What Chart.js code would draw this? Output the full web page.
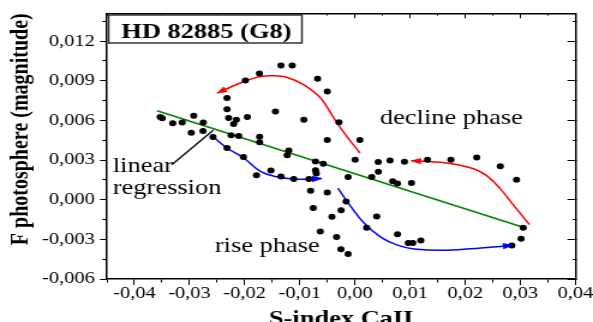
<!DOCTYPE html>
<html>
<head>
<meta charset="utf-8">
<script src="https://cdn.jsdelivr.net/npm/chart.js@4.4.1/dist/chart.umd.min.js"></script>
<style>
  html, body { margin: 0; padding: 0; background: #fff; overflow: hidden; }
  #chart { position: absolute; left: 0; top: 0; transform: scaleX(1.2004); transform-origin: 0 0; }
</style>
</head>
<body>
<canvas id="chart" width="494" height="322"></canvas>
<script>
// S-index CaII variation vs photospheric flux variation
const sIndex = [
  -0.03533, -0.03496, -0.03305, -0.03133, -0.02924, -0.02751, -0.02969, -0.02756, -0.02575,
  -0.0232, -0.0232, -0.02291, -0.02151, -0.022, -0.01951, -0.02247, -0.02109, -0.01729, -0.01729,
  -0.01987, -0.01733, -0.01342, -0.01138, -0.00678, -0.00502, -0.01442, -0.00927, -0.00291, -0.00502, 0.00089,
  -0.012, -0.01229, -0.0232, -0.02024, -0.01787, -0.01524, -0.01342, -0.01109, -0.00836, -0.00715, -0.00702,
  -0.00715, -0.00575, -0.00805, -0.00502, -0.00756, -0.00418, -0.00251, -0.0016, -0.00629, -0.00333, -0.00255, -0.00124,
  0.00004, -0.00124, 0.00304, 0.00422, 0.00425, 0.00636, 0.00898, 0.01316, 0.0174, 0.02209, 0.02636, 0.02931,
  0.00685, 0.00771, 0.01025, 0.00395, 0.00213, 0.00771, 0.00967, 0.01049, 0.01195, 0.03053, 0.03013, 0.02845
];
const fPhot = [
  0.00625, 0.00616, 0.00578, 0.00584, 0.00635, 0.00584, 0.00506, 0.0052, 0.00474,
  0.00769, 0.00685, 0.00618, 0.00605, 0.00572, 0.00626, 0.00487, 0.00482, 0.00476, 0.00435,
  0.00902, 0.00954, 0.01016, 0.01016, 0.00914, 0.00818, 0.00667, 0.00605, 0.00586, 0.00452, 0.00452,
  0.00373, 0.00336, 0.00391, 0.00323, 0.00185, 0.00221, 0.00176, 0.00156, 0.00156, 0.00223, 0.00198,
  0.00289, 0.00272, 0.00068, 0.00055, -0.00063, -0.0013, -0.00079, -0.00013, -0.0024, -0.00282, -0.00374, -0.0041,
  0.00302, 0.00172, 0.00172, 0.00286, 0.00212, 0.00296, 0.00287, 0.00302, 0.00302, 0.00319, 0.00252, 0.00151,
  0.0014, 0.00123, 0.00126, -0.00128, -0.00212, -0.00262, -0.00327, -0.00327, -0.00308, -0.00212, -0.00295, -0.00346
];

// linear regression end points
const regX = [-0.0359, 0.0305];
const regY = [0.00673, -0.00208];

// decline phase arrows (red)
const declineTopX = [0.00091, -0.00169, -0.00382, -0.00624, -0.00927, -0.01229, -0.01473, -0.01715, -0.01956, -0.02224, -0.02496];
const declineTopY = [0.00353, 0.00491, 0.00617, 0.00769, 0.00869, 0.00924, 0.00937, 0.00932, 0.00902, 0.00858, 0.00806];
const declineRightX = [0.03167, 0.02895, 0.02649, 0.02407, 0.02164, 0.01862, 0.01558, 0.01316, 0.01025];
const declineRightY = [-0.00189, -0.00051, 0.00076, 0.00176, 0.00232, 0.00264, 0.00283, 0.00289, 0.00295];

// rise phase arrows (blue)
const riseLeftX = [-0.02575, -0.0232, -0.02018, -0.01715, -0.01473, -0.01109, -0.00865, -0.00605];
const riseLeftY = [0.00476, 0.00391, 0.00315, 0.00214, 0.00178, 0.00156, 0.00155, 0.00161];
const riseRightX = [-0.00309, -0.00078, 0.00164, 0.00467, 0.00771, 0.01073, 0.0168, 0.02285, 0.02858];
const riseRightY = [0.00088, -0.00051, -0.00176, -0.00283, -0.00344, -0.00373, -0.00382, -0.00365, -0.00346];

// pointer from the "linear regression" label
const pointerX = [-0.03322, -0.02571];
const pointerY = [0.00264, 0.00525];

// axis ticks
const xTickValues = [-0.04, -0.03, -0.02, -0.01, 0, 0.01, 0.02, 0.03, 0.04];
const xTickLabels = ['-0,04', '-0,03', '-0,02', '-0,01', '0,00', '0,01', '0,02', '0,03', '0,04'];
const yTickValues = [-0.006, -0.003, 0, 0.003, 0.006, 0.009, 0.012];
const yTickLabels = ['-0,006', '-0,003', '0,000', '0,003', '0,006', '0,009', '0,012'];

const FONT = 'Liberation Serif';
const X_MIN = -0.045, X_MAX = 0.04, Y_MIN = -0.006, Y_MAX = 0.0141;

const toPoints = (xs, ys) => xs.map((x, i) => ({ x: x, y: ys[i] }));

// majors plus one minor tick half-way between them
function withMinor(majors, lo, hi) {
  const half = (majors[1] - majors[0]) / 2;
  const vals = [];
  majors.forEach(m => vals.push(m - half, m, m + half));
  return [...new Set(vals.map(v => +v.toFixed(5)))]
    .filter(v => v >= lo - 1e-9 && v <= hi + 1e-9)
    .sort((a, b) => a - b);
}
const isMajor = (v, majors) => majors.some(m => Math.abs(m - v) < 1e-7);
function labelFor(v, majors, labels) {
  const i = majors.findIndex(m => Math.abs(m - v) < 1e-7);
  return i < 0 ? '' : labels[i];
}
// short dash for minor ticks, full length for major
function tickDash(majors, minorDash) {
  return ctx => (ctx.tick && !isMajor(ctx.tick.value, majors)) ? minorDash : [];
}

function axis(position, majors, lo, hi, size, tickLength, minorDash, extra) {
  return Object.assign({
    type: 'linear',
    position: position,
    min: lo,
    max: hi,
    afterBuildTicks: s => { s.ticks = withMinor(majors, lo, hi).map(v => ({ value: v })); },
    afterFit: s => {
      if (s.isHorizontal()) s.height = size; else s.width = size;
      s.paddingLeft = s.paddingRight = s.paddingTop = s.paddingBottom = 0;
    },
    grid: {
      drawOnChartArea: false,
      tickColor: '#000',
      tickWidth: 1,
      tickLength: tickLength,
      tickBorderDash: tickDash(majors, minorDash)
    },
    border: { color: '#000', width: 1.5 },
    ticks: { display: false, autoSkip: false, maxRotation: 0 }
  }, extra || {});
}

const curve = (xs, ys, color) => ({
  data: toPoints(xs, ys),
  showLine: true,
  borderColor: color,
  backgroundColor: color,
  borderWidth: 1.5,
  pointRadius: 0,
  tension: 0.4,
  arrow: true,
  order: 2
});

// arrowheads at the end of the phase curves, plus labels
const annotations = {
  id: 'annotations',
  afterDatasetsDraw(chart) {
    const ctx = chart.ctx;
    chart.data.datasets.forEach((ds, i) => {
      if (!ds.arrow) return;
      const pts = chart.getDatasetMeta(i).data;
      const a = pts[pts.length - 2], b = pts[pts.length - 1];
      const ang = Math.atan2(b.y - a.y, b.x - a.x);
      ctx.save();
      ctx.translate(b.x, b.y);
      ctx.rotate(ang);
      ctx.fillStyle = ds.borderColor;
      ctx.beginPath();
      ctx.moveTo(1, 0);
      ctx.lineTo(-8, -3.2);
      ctx.lineTo(-8, 3.2);
      ctx.closePath();
      ctx.fill();
      ctx.restore();
    });
  },
  afterDraw(chart) {
    const ctx = chart.ctx;
    ctx.save();
    // star name box
    ctx.fillStyle = '#fff';
    ctx.fillRect(90.5, 15, 161, 28);
    ctx.strokeStyle = '#333';
    ctx.lineWidth = 1.5;
    ctx.strokeRect(90.5, 15, 161, 28);
    ctx.fillStyle = '#000';
    ctx.textBaseline = 'alphabetic';
    ctx.textAlign = 'center';
    ctx.font = 'bold 22px "' + FONT + '"';
    ctx.fillText('HD 82885 (G8)', 172, 37.5);
    ctx.textAlign = 'left';
    ctx.font = '22px "' + FONT + '"';
    ctx.fillText('decline phase', 316.5, 124);
    ctx.fillText('linear', 94, 172);
    ctx.fillText('regression', 94, 194);
    ctx.fillText('rise phase', 179, 252);
    ctx.restore();
  }
};

new Chart(document.getElementById('chart'), {
  type: 'scatter',
  data: {
    datasets: [
      {
        data: toPoints(sIndex, fPhot),
        pointRadius: 3,
        pointHoverRadius: 3,
        pointBackgroundColor: '#000',
        pointBorderColor: '#000',
        pointBorderWidth: 0,
        order: 0
      },
      {
        data: toPoints(regX, regY),
        showLine: true,
        borderColor: '#008000',
        borderWidth: 1.5,
        pointRadius: 0,
        order: 3
      },
      {
        data: toPoints(pointerX, pointerY),
        showLine: true,
        borderColor: '#000',
        borderWidth: 1.3,
        pointRadius: 0,
        order: 3
      },
      curve(declineTopX, declineTopY, '#ff0000'),
      curve(declineRightX, declineRightY, '#ff0000'),
      curve(riseLeftX, riseLeftY, '#0000ff'),
      curve(riseRightX, riseRightY, '#0000ff')
    ]
  },
  options: {
    responsive: false,
    devicePixelRatio: 1,
    animation: false,
    events: [],
    layout: { padding: 0 },
    plugins: {
      legend: { display: false },
      tooltip: { enabled: false }
    },
    scales: {
      x: axis('bottom', xTickValues, X_MIN, X_MAX, 43, 6, [3, 100], {
        ticks: {
          display: true, autoSkip: false, maxRotation: 0, padding: 0, color: '#000',
          font: { family: FONT, size: 17, lineHeight: 1 },
          callback: v => labelFor(v, xTickValues, xTickLabels)
        },
        title: {
          display: true, text: 'S-index CaII', color: '#000',
          font: { family: FONT, size: 22, weight: 'bold', lineHeight: 1 },
          padding: { top: 0, bottom: -8 }
        }
      }),
      xTop: axis('top', xTickValues, X_MIN, X_MAX, 13.3, -5, [0, 2.7, 3, 100]),
      y: axis('left', yTickValues, Y_MIN, Y_MAX, 89, 5.6, [0, 1.8, 3.1, 100], {
        ticks: {
          display: true, autoSkip: false, padding: 4.5, color: '#000',
          font: { family: FONT, size: 17 },
          callback: v => labelFor(v, yTickValues, yTickLabels)
        },
        title: {
          display: true, text: 'F photosphere (magnitude)', color: '#000', align: 'end',
          font: { family: FONT, size: 20, weight: 'bold', lineHeight: 1 },
          padding: { top: 8 }
        }
      }),
      yRight: axis('right', yTickValues, Y_MIN, Y_MAX, 14.6, -6.7, [3.5, 100])
    }
  },
  plugins: [annotations]
});
</script>
</body>
</html>
